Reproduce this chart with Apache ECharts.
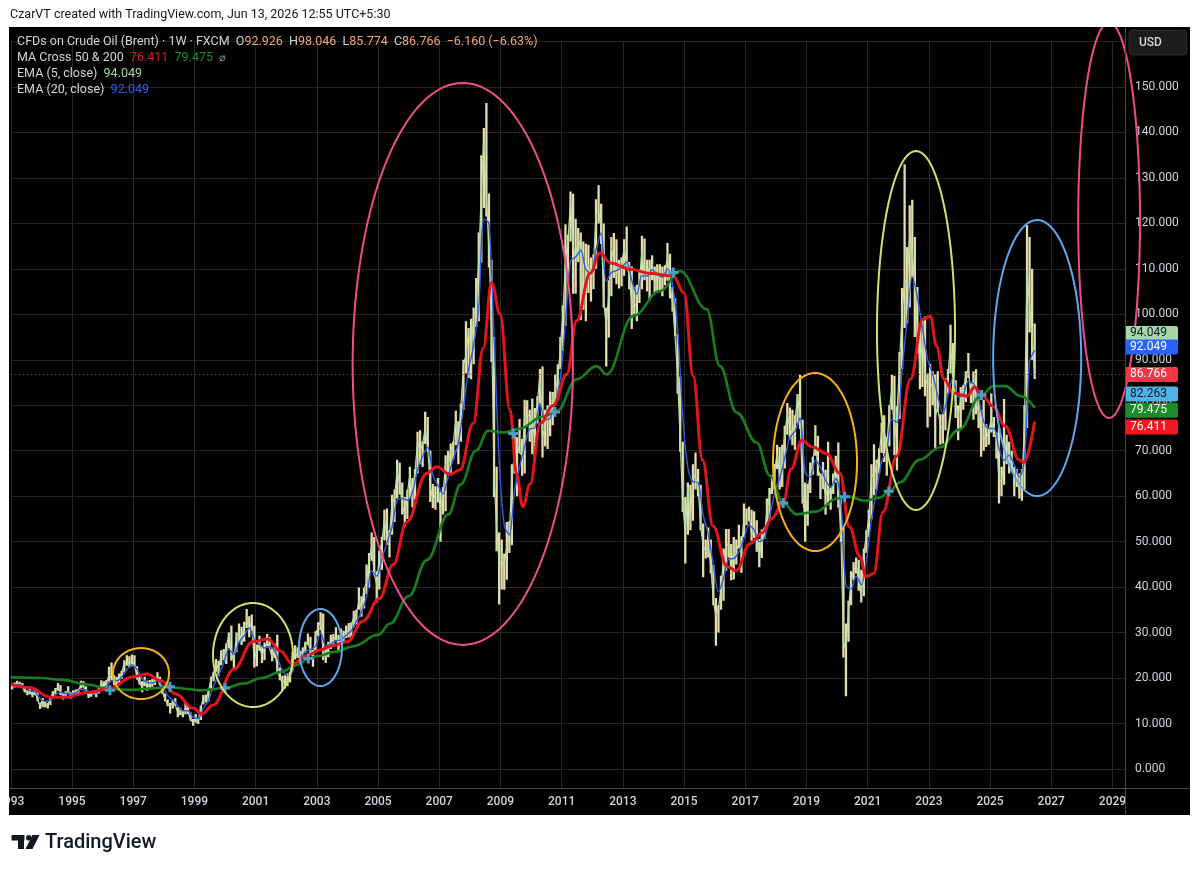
<!DOCTYPE html>
<html><head><meta charset="utf-8">
<script src="https://cdn.jsdelivr.net/npm/echarts@6/dist/echarts.min.js"></script>
<style>
html,body{margin:0;padding:0;background:#ffffff;}
#pane{position:absolute;left:9px;top:27px;width:1181px;height:788px;background:#000000;}
#c{position:absolute;left:0;top:0;width:1200px;height:872px;}
</style>
</head><body><div id="pane"></div><div id="c"></div>
<script>
// ---------- DATA ----------
const START_YEAR = 1993;           // first month = Jan 1993, one entry per month
const monthlyLow = [
17.5,17.9,18.4,18.2,17.8,16.9,16.2,16.4,15.8,16.2,14.9,13.2,
13.6,13.5,13.3,14.1,15.6,16.4,17.2,16.3,15.3,15.8,16.9,15.5,
15.9,16.5,16.4,17.7,17.9,16.8,15.6,15.9,16.4,15.8,16.6,17.7,
17.6,17.8,19.2,19.6,18.4,17.9,19.0,19.8,21.2,22.7,22.3,22.6,
22.5,19.7,18.6,16.9,18.2,17.2,17.8,18.1,18.5,19.6,18.4,16.5,
14.9,13.8,12.2,13.3,13.9,11.4,11.8,11.4,12.0,12.1,10.6,9.5,
10.2,9.9,10.8,14.2,14.6,14.8,17.8,19.3,21.4,20.5,22.8,23.9,
23.1,26.5,23.8,21.9,25.7,28.0,27.3,28.0,31.0,29.0,30.3,22.3,
22.6,26.0,23.3,24.0,27.0,26.8,23.7,24.4,21.0,19.5,17.3,17.7,
18.2,19.0,21.5,24.1,24.4,23.2,24.8,25.5,27.2,25.1,22.5,25.7,
29.2,30.5,24.0,23.3,24.6,26.4,27.4,28.3,26.0,27.4,27.8,28.8,
28.9,29.0,31.2,31.8,35.0,33.5,35.3,38.5,39.9,45.8,42.6,36.6,
39.5,43.8,50.3,49.3,46.5,51.5,54.3,59.5,60.4,56.0,53.4,55.0,
59.5,57.5,59.2,65.0,67.0,66.4,71.5,69.8,58.7,57.4,57.0,58.6,
50.0,56.0,56.7,65.2,64.6,68.0,71.2,67.0,72.0,79.0,87.0,86.0,
85.7,89.0,97.2,98.5,111.4,123.4,121.5,110.3,89.5,59.8,47.9,36.2,
39.5,39.4,41.6,47.5,49.2,65.0,60.0,69.5,64.5,65.0,75.6,72.0,
69.2,68.6,76.0,80.0,68.5,71.0,70.4,73.2,75.6,80.3,81.9,88.0,
92.0,97.5,107.0,116.0,104.5,104.5,111.5,98.7,101.0,98.5,104.7,102.8,
105.5,110.0,120.0,115.5,101.5,88.5,94.9,104.0,108.0,106.6,105.7,106.2,
108.5,110.5,105.5,96.8,100.0,98.5,102.5,105.5,107.5,105.0,103.0,107.5,
104.7,104.8,104.9,104.0,106.4,107.4,103.5,100.6,95.3,82.6,69.8,56.5,
45.2,51.5,52.5,54.6,61.5,60.0,52.5,42.2,46.3,46.5,43.0,36.0,
27.1,30.0,35.0,37.0,43.6,46.5,41.5,41.7,45.0,48.5,43.1,51.0,
53.6,54.5,50.2,50.8,47.8,44.4,46.4,50.6,53.2,55.0,60.5,61.5,
66.0,61.5,62.0,66.1,73.5,72.5,71.2,70.2,76.0,74.8,58.4,50.0,
53.5,60.7,64.7,68.9,64.5,59.4,61.6,55.9,58.0,57.0,60.5,63.0,
57.5,50.0,24.5,16.0,28.0,36.0,41.5,43.0,39.2,36.6,38.0,47.5,
51.0,55.0,60.2,61.5,65.0,69.5,67.5,64.5,71.0,79.0,69.0,65.7,
77.0,88.0,97.0,98.0,101.5,108.0,95.0,91.5,83.5,84.0,82.0,75.1,
77.5,80.0,70.1,78.5,71.3,71.6,74.5,82.5,87.0,83.4,77.2,72.3,
74.5,79.0,80.7,86.0,80.5,76.8,78.0,75.0,68.7,70.0,70.8,71.3,
74.0,73.0,68.3,58.4,60.0,62.5,67.0,65.0,65.5,60.0,62.0,59.5,
59.0,61.5,75.0,96.0,90.0,85.8
];
const monthlyHigh = [
18.8,19.0,19.4,19.2,18.9,18.2,17.3,17.6,17.0,17.8,16.9,14.6,
15.6,14.9,14.5,16.0,17.1,17.8,18.9,18.5,16.6,17.1,18.2,16.9,
17.3,17.5,17.6,19.4,19.3,18.2,16.8,17.0,17.3,16.8,17.8,19.5,
19.3,19.6,22.5,23.4,20.6,20.3,21.0,21.6,23.9,25.0,24.8,25.2,
25.0,22.6,20.9,19.3,20.3,19.4,19.6,19.8,20.3,21.3,20.3,18.4,
16.6,15.3,14.5,15.2,15.6,13.6,13.4,12.8,14.6,14.0,12.4,11.0,
12.1,11.1,13.9,16.3,16.4,17.3,20.3,21.4,24.2,23.8,26.1,26.4,
27.6,30.0,31.5,25.6,30.0,32.0,31.3,32.4,35.2,33.6,34.0,31.5,
27.4,29.3,27.1,27.8,29.7,29.0,26.5,27.6,29.5,22.3,20.5,20.6,
21.0,21.4,25.8,27.2,26.8,26.0,26.7,28.0,29.8,29.1,26.2,30.3,
32.3,34.5,34.2,26.8,28.0,29.5,29.7,31.2,29.5,30.9,30.4,31.5,
32.1,32.2,34.8,35.0,39.9,38.0,39.8,45.0,47.5,52.0,51.0,43.5,
48.0,51.0,57.0,57.3,52.5,60.3,61.5,68.0,67.4,63.0,59.8,61.4,
66.5,64.0,66.0,74.2,74.5,72.1,78.6,77.4,70.0,62.7,62.2,64.0,
61.0,62.0,69.0,70.0,71.6,72.0,78.8,76.5,80.4,90.0,98.5,97.0,
99.0,101.5,108.0,118.0,135.0,141.0,146.5,126.6,112.0,95.0,66.5,52.0,
50.5,47.4,54.3,54.5,67.0,73.5,73.0,77.0,72.6,81.2,81.1,79.0,
81.5,79.4,82.0,88.0,88.5,79.0,80.0,83.0,82.9,86.8,89.0,95.0,
102.0,119.8,117.5,127.0,126.5,121.0,119.0,118.0,116.0,115.5,115.3,112.5,
113.2,125.3,128.4,124.3,120.0,101.5,107.5,117.0,117.9,116.5,112.0,112.5,
116.5,119.3,111.5,110.5,106.0,106.5,109.8,117.3,116.7,112.0,112.0,113.0,
110.5,111.0,111.0,110.5,110.8,115.7,113.3,106.0,103.6,95.6,86.3,72.0,
59.8,63.0,62.5,67.0,69.6,66.0,62.5,54.0,50.5,53.1,50.5,45.0,
37.6,36.0,42.5,48.5,52.8,52.8,49.5,51.0,50.5,53.7,51.2,58.4,
57.3,57.7,57.0,56.7,54.7,50.6,52.7,53.1,59.5,61.8,64.7,67.1,
71.3,70.8,71.3,75.5,80.5,79.5,79.0,77.8,82.5,86.7,76.8,63.0,
62.7,67.4,68.7,75.6,73.3,65.0,67.5,65.8,72.0,61.9,65.0,68.9,
71.8,60.0,53.0,32.0,37.0,43.5,45.5,46.5,46.0,43.8,48.5,52.5,
57.0,67.0,71.4,68.0,70.5,76.2,77.8,73.0,80.0,86.7,86.5,79.8,
91.7,105.8,133.0,114.8,124.0,125.2,117.0,106.0,97.0,98.8,99.5,87.0,
89.1,87.5,86.8,87.5,78.0,78.0,86.0,88.0,97.7,93.7,85.5,80.0,
84.0,84.4,87.5,91.5,84.8,87.5,87.9,81.5,79.0,81.2,75.8,75.0,
82.6,77.4,74.0,75.3,66.5,81.4,73.5,72.0,70.0,66.5,66.0,65.0,
66.0,80.0,119.6,117.0,110.0,98.0
];
const monthlyClose = [
18.0,18.6,18.9,18.5,18.0,17.0,16.8,16.9,16.4,16.9,15.2,13.8,
15.1,14.0,14.2,15.8,16.7,17.4,18.0,16.8,16.1,16.7,17.2,16.0,
16.8,17.1,17.2,18.6,18.1,17.0,16.1,16.7,16.9,16.4,17.5,18.9,
17.9,19.0,20.6,20.0,19.0,19.5,20.2,21.3,23.3,23.0,23.5,23.8,
22.9,20.0,19.0,18.0,19.4,17.9,18.6,18.9,19.6,19.8,18.5,16.8,
15.3,14.2,13.9,14.7,14.1,12.3,12.1,12.0,13.4,12.5,10.9,10.1,
11.3,10.5,13.6,15.6,15.4,17.0,19.8,21.0,23.4,21.9,25.3,25.1,
27.0,29.5,25.0,24.0,29.5,30.0,28.0,31.8,32.0,32.5,31.0,23.8,
26.4,27.0,25.0,26.6,28.0,26.5,24.5,26.0,22.0,20.0,19.0,19.6,
19.8,20.6,25.0,25.4,24.9,25.3,25.8,27.5,28.0,25.7,24.5,29.5,
31.3,32.5,25.5,25.0,27.5,27.8,28.5,29.0,27.0,29.5,29.9,30.2,
30.5,31.5,33.5,34.0,37.0,35.5,39.5,41.0,46.0,49.0,43.0,40.5,
47.0,50.0,55.0,51.0,51.5,58.5,59.5,66.0,62.5,58.0,56.0,60.5,
65.0,60.0,65.5,72.0,70.0,71.5,75.0,70.5,62.0,59.0,60.5,61.0,
57.0,60.5,67.5,67.0,70.0,71.5,77.0,72.5,79.5,89.0,91.0,96.0,
92.0,100.0,101.0,112.0,127.0,139.0,126.0,114.0,98.0,64.0,53.0,45.0,
45.5,45.0,49.0,51.5,65.0,69.0,71.5,69.5,69.0,77.5,78.0,77.5,
72.5,77.0,80.5,87.0,73.0,75.0,79.0,76.5,82.0,83.5,85.5,93.0,
100.0,112.0,116.5,125.0,115.0,112.0,117.0,114.0,102.0,109.5,110.5,107.5,
111.0,122.5,122.5,119.5,102.5,97.5,104.5,114.5,112.0,108.5,110.5,111.0,
114.5,111.0,108.5,102.0,101.5,102.5,107.5,114.0,108.0,108.5,110.5,111.0,
106.5,109.0,107.5,108.0,109.5,112.5,106.0,102.5,95.0,86.0,72.0,58.0,
52.0,62.0,54.5,65.0,64.0,62.0,53.5,49.0,48.0,49.0,44.5,37.0,
33.5,35.5,39.5,47.0,49.0,49.5,43.0,48.5,48.0,49.5,49.0,55.0,
55.5,56.0,51.5,52.0,51.5,46.0,51.5,51.0,57.0,60.0,62.5,65.5,
69.5,64.5,68.0,74.0,78.0,75.0,73.5,76.5,82.0,77.5,60.0,54.0,
61.0,65.0,67.5,72.5,66.0,64.5,63.5,60.0,62.0,60.0,63.0,67.0,
60.0,52.0,28.0,26.0,35.0,41.5,43.5,45.0,41.0,38.0,47.5,51.5,
55.5,65.0,64.0,67.0,69.0,74.5,74.0,71.0,78.5,84.0,72.0,78.0,
89.5,100.5,107.5,106.5,118.0,113.5,106.0,97.0,88.0,94.5,86.0,84.5,
85.0,84.0,77.5,79.5,75.5,75.0,83.5,86.5,93.5,86.0,80.5,77.5,
81.5,83.5,86.5,88.0,82.0,86.0,80.5,78.5,72.5,73.0,72.5,74.5,
77.0,73.5,73.0,63.5,63.5,67.5,72.5,68.0,67.0,64.5,63.5,61.5,
63.0,76.0,110.0,102.0,94.5,86.766
];
// EMA(20) read every second month (Feb, Apr, Jun, Aug, Oct, Dec)
const ema20 = [
18.4,18.6,17.9,17.3,17.0,15.5,
14.9,15.1,16.3,16.9,16.6,16.5,
16.8,17.5,17.4,16.8,16.7,17.7,
18.2,19.4,19.4,20.2,21.9,22.9,
21.9,19.9,19.0,18.9,19.4,18.3,
16.2,15.2,13.9,12.8,12.8,11.4,
11.1,13.3,15.1,18.2,20.7,23.3,
26.3,25.2,27.9,29.3,31.0,28.5,
27.5,26.6,26.9,26.1,23.0,20.9,
20.5,23.2,24.3,25.8,26.3,27.0,
29.9,27.2,27.5,28.2,28.4,29.4,
30.4,32.4,34.5,37.9,43.6,42.4,
46.1,49.8,53.2,59.1,59.5,59.1,
60.8,65.8,68.8,70.8,64.7,62.4,
60.5,64.3,68.1,71.7,79.5,87.9,
93.1,101.5,121.0,120.0,95.2,68.0,
53.5,51.5,61.0,66.4,70.9,74.8,
75.0,80.4,76.8,77.2,80.5,86.0,
98.3,111.8,112.6,114.1,109.8,109.1,
114.2,117.9,107.2,109.2,109.6,110.3,
111.5,107.5,104.4,108.5,108.4,109.8,
108.8,108.2,110.0,106.5,96.7,77.5,
66.3,63.2,63.0,55.9,51.7,44.9,
39.0,41.9,46.2,46.3,47.8,50.6,
53.6,52.6,50.0,50.7,55.4,60.5,
63.9,68.4,72.9,74.3,77.2,65.2,
64.2,67.9,66.3,63.5,62.0,63.9,
58.8,40.3,39.6,42.4,40.5,45.9,
54.8,61.1,67.6,70.2,76.9,76.2,
87.8,98.8,108.3,103.8,97.0,90.1,
86.8,82.1,78.1,82.3,86.1,81.8,
82.3,85.3,84.8,81.6,76.5,74.9,
74.9,70.5,67.9,69.0,66.9,64.2,
68.1,89.5,92.049
];
// [year, value]
const ma50 = [
[1993.0,18.6],[1993.6,17.9],[1994.3,15.8],[1994.8,15.8],[1995.5,16.8],[1996.2,17.6],[1997.0,20.3],[1997.45,20.9],
[1997.9,19.4],[1998.4,16.5],[1998.95,13.4],[1999.25,12.1],[1999.6,14.0],[2000.3,22.0],[2000.9,28.0],[2001.4,28.6],
[2001.8,26.0],[2002.2,23.1],[2002.7,25.0],[2003.1,26.2],[2003.5,27.1],[2004.0,28.0],[2004.5,32.5],[2005.05,37.5],
[2005.5,45.0],[2005.94,54.3],[2006.59,65.0],[2006.92,66.5],[2007.35,64.8],[2007.68,65.8],[2008.11,76.0],[2008.44,92.6],
[2008.71,107.0],[2008.99,100.0],[2009.31,79.0],[2009.53,64.8],[2009.73,57.7],[2009.97,62.6],[2010.3,76.0],[2010.73,80.0],
[2011.17,86.8],[2011.49,98.6],[2011.93,109.0],[2012.25,113.5],[2012.6,111.3],[2013.25,109.9],[2013.9,109.0],[2014.65,108.4],
[2015.0,104.7],[2015.3,86.4],[2015.6,68.0],[2015.95,53.4],[2016.4,44.6],[2016.7,43.6],[2017.15,49.5],[2017.57,52.0],
[2017.85,55.0],[2018.24,58.5],[2018.5,66.0],[2018.85,72.3],[2019.2,70.8],[2019.65,69.4],[2020.1,65.0],[2020.4,53.3],
[2020.75,46.7],[2020.95,42.3],[2021.2,43.0],[2021.5,56.5],[2021.95,68.8],[2022.4,85.7],[2022.8,98.9],[2023.05,99.6],
[2023.25,93.0],[2023.5,85.7],[2023.8,82.7],[2024.25,82.0],[2024.5,84.0],[2024.72,82.3],[2025.1,79.8],[2025.5,75.4],
[2025.95,68.0],[2026.1,67.4],[2026.458,76.411]
];
const ma200 = [
[1993.0,20.2],[1994.0,20.0],[1994.7,19.6],[1995.5,18.6],[1996.2,17.6],[1997.0,17.4],[1997.5,17.7],[1998.2,18.0],
[1998.8,17.6],[1999.2,17.3],[2000.0,17.8],[2000.6,18.8],[2001.2,20.0],[2001.8,21.3],[2002.4,23.0],[2002.7,24.2],
[2003.0,24.8],[2003.6,25.8],[2004.2,27.0],[2005.0,29.5],[2005.4,32.0],[2006.0,38.0],[2006.6,46.0],[2007.3,56.0],
[2007.7,62.6],[2008.2,70.0],[2008.6,74.4],[2009.1,74.0],[2009.6,74.8],[2010.4,77.5],[2010.84,78.7],[2011.49,85.7],
[2012.14,88.6],[2012.47,86.8],[2013.34,99.6],[2014.21,105.1],[2014.87,109.5],[2015.74,101.1],[2016.17,88.6],[2016.72,78.4],
[2017.37,71.8],[2017.81,64.5],[2018.24,58.5],[2018.68,56.0],[2019.3,56.6],[2020.0,59.5],[2020.4,59.9],[2020.9,59.0],
[2021.4,59.7],[2021.7,61.0],[2022.05,63.0],[2022.7,68.0],[2023.35,70.7],[2024.0,74.7],[2024.72,82.3],[2025.1,84.2],
[2025.5,84.2],[2026.0,82.0],[2026.458,79.475]
];
const maCrosses = [
[1996.24,17.3],[1998.2,18.1],[2000.0,17.8],[2002.72,24.3],[2009.42,73.8],[2010.78,78.5],
[2014.65,109.2],[2018.24,58.5],[2020.25,59.9],[2021.69,61.1],[2024.72,82.263]
];
// drawn ellipses: [centre year, centre price, half-width in years, half-height in price]
const ellipses = [
[2007.77,89.1,3.6,61.8],[2028.89,120.7,1.01,43.5],[1997.255,21.0,0.915,5.6],[2000.915,25.07,1.307,11.44],
[2003.12,26.72,0.703,8.47],[2019.28,67.52,1.373,19.57],[2022.58,96.44,1.275,39.48],[2026.54,90.39,1.438,30.35]
];
const lastValues = { ema5: 94.049, ema20: 92.049, close: 86.766, cross: 82.263, ma200: 79.475, ma50: 76.411 };
const ohlc = { o: '92.926', h: '98.046', l: '85.774', c: '86.766', chg: '−6.160 (−6.63%)' };

// ---------- STYLES ----------
const ellipseColors = ['#ee4d8c','#ee4d8c','#f8b219','#cde468','#5ea8f2','#f8b219','#cde468','#5ea8f2'];
const FONT = 'Roboto, "Liberation Sans", sans-serif';
const TXT = '#d1d4dc';

const monthX = i => START_YEAR + (i + 0.5) / 12;
const barData = monthlyLow.map((lo, i) => [monthX(i), lo, monthlyHigh[i]]);
const closeData = monthlyClose.map((c, i) => [monthX(i), c]);
const ema20Data = ema20.map((v, i) => [START_YEAR + (2 * i + 1.5) / 12, v]);

const chart = echarts.init(document.getElementById('c'), null, { renderer: 'canvas', width: 1200, height: 872 });

const option = {
  backgroundColor: 'transparent',
  animation: false,
  grid: { left: 10.8, right: 75, top: 41.52, bottom: 57.53, containLabel: false, outerBoundsMode: 'none' },
  xAxis: [
    { type: 'value', min: 1993, max: 2029.41, interval: 2, position: 'top',
      axisLine: { show: false }, axisTick: { show: false }, axisLabel: { show: false },
      splitLine: { show: true, lineStyle: { color: '#252525', width: 1 } } },
    { type: 'value', min: 1993, max: 2029.41, interval: 2, position: 'bottom', offset: -26.5, z: 10,
      axisLine: { show: false }, axisTick: { show: false }, splitLine: { show: false },
      axisLabel: { color: TXT, fontSize: 12, fontWeight: 500, fontFamily: FONT, margin: 8, showMaxLabel: false,
        formatter: v => (Math.abs(v - Math.round(v)) < 1e-6 ? String(Math.round(v)) : '') } }
  ],
  yAxis: {
    type: 'value', position: 'right', min: -10, max: 160, interval: 10,
    axisLine: { show: false }, axisTick: { show: false },
    splitLine: { show: true, lineStyle: { color: '#252525', width: 1 } },
    axisLabel: { color: TXT, fontSize: 12, fontFamily: FONT, margin: 10,
      formatter: v => (v >= 0 && v <= 150 ? v.toFixed(3) : '') }
  },
  series: [
    { type: 'custom', name: 'bars', z: 2, clip: true, data: barData, encode: { x: 0, y: [1, 2] },
      renderItem: (params, api) => {
        const a = api.coord([api.value(0), api.value(1)]);
        const b = api.coord([api.value(0), api.value(2)]);
        return { type: 'line', shape: { x1: a[0], y1: a[1], x2: b[0], y2: b[1] },
                 style: { stroke: '#e2dcaa', lineWidth: 2.3 } };
      } },
    { type: 'line', name: 'EMA5', z: 3, data: closeData, showSymbol: false, symbol: 'none',
      lineStyle: { color: '#b6dda8', width: 1.2 },
      markLine: { silent: true, symbol: ['none', 'none'], label: { show: false },
        lineStyle: { color: '#f23645', type: [1, 3], width: 1, opacity: 0.9 },
        data: [{ yAxis: lastValues.close }] } },
    { type: 'line', name: 'EMA20', z: 4, data: ema20Data, showSymbol: false, symbol: 'none', smooth: 0.3,
      lineStyle: { color: '#2d5ce6', width: 1.4 } },
    { type: 'line', name: 'MA200', z: 5, data: ma200, showSymbol: false, symbol: 'none', smooth: 0.4, smoothMonotone: 'x',
      lineStyle: { color: '#17801d', width: 2.6 } },
    { type: 'line', name: 'MA50', z: 5, data: ma50, showSymbol: false, symbol: 'none', smooth: 0.4, smoothMonotone: 'x',
      lineStyle: { color: '#e3141b', width: 3 } },
    { type: 'scatter', name: 'cross', z: 6, data: maCrosses, symbolSize: 10,
      symbol: 'path://M3.5,0H6.5V3.5H10V6.5H6.5V10H3.5V6.5H0V3.5H3.5Z',
      itemStyle: { color: '#4a9ec6', opacity: 1 } },
    { type: 'custom', name: 'ellipses', z: 7, clip: false, data: ellipses,
      encode: { x: 0, y: 1 },
      renderItem: (params, api) => {
        const cx = api.value(0), cy = api.value(1), rx = api.value(2), ry = api.value(3);
        const pts = [];
        for (let k = 0; k <= 144; k++) {
          const t = k / 144 * Math.PI * 2;
          pts.push(api.coord([cx + rx * Math.cos(t), cy + ry * Math.sin(t)]));
        }
        return { type: 'polyline', shape: { points: pts },
                 style: { stroke: ellipseColors[params.dataIndex], lineWidth: 2, fill: 'none' } };
      } }
  ]
};
chart.setOption(option);

function baseGraphic() {
  const els = [];
  // covers that trim the pane
  els.push({ type: 'rect', z: 50, shape: { x: 0, y: 0, width: 1200, height: 27 }, style: { fill: '#ffffff' } });
  els.push({ type: 'rect', z: 50, shape: { x: 0, y: 27, width: 9, height: 845 }, style: { fill: '#ffffff' } });
  els.push({ type: 'rect', z: 5, shape: { x: 9, y: 788.5, width: 1116, height: 26.5 }, style: { fill: '#000000' } });
  // separators
  els.push({ type: 'line', z: 20, shape: { x1: 1125.5, y1: 27, x2: 1125.5, y2: 815 }, style: { stroke: '#4a4a4a', lineWidth: 1 } });
  els.push({ type: 'line', z: 20, shape: { x1: 9, y1: 788.5, x2: 1190, y2: 788.5 }, style: { stroke: '#4a4a4a', lineWidth: 1 } });
  // header
  els.push({ type: 'text', z: 60, x: 10, y: 15,
    style: { text: 'CzarVT created with TradingView.com, Jun 13, 2026 12:55 UTC+5:30', fill: '#131722',
      font: '12.5px ' + FONT, verticalAlign: 'middle', align: 'left' } });
  // legend
  const rich = {
    t: { fill: TXT, font: '12.5px ' + FONT }, o: { fill: '#f2a47a', font: '12.5px ' + FONT },
    r: { fill: '#e3141b', font: '12.5px ' + FONT }, g: { fill: '#1f8f25', font: '12.5px ' + FONT },
    s: { fill: '#9598a1', font: '11px ' + FONT }, lg: { fill: '#a5d6a7', font: '12.5px ' + FONT },
    bl: { fill: '#2962ff', font: '12.5px ' + FONT }
  };
  const lines = [
    `{t|CFDs on Crude Oil (Brent) · 1W · FXCM}  {t|O}{o|${ohlc.o}}  {t|H}{o|${ohlc.h}}  {t|L}{o|${ohlc.l}}  {t|C}{o|${ohlc.c}}  {o|${ohlc.chg}}`,
    `{t|MA Cross 50 & 200}  {r|${lastValues.ma50.toFixed(3)}}  {g|${lastValues.ma200.toFixed(3)}}  {s|⌀}`,
    `{t|EMA (5, close)}  {lg|${lastValues.ema5.toFixed(3)}}`,
    `{t|EMA (20, close)}  {bl|${lastValues.ema20.toFixed(3)}}`
  ];
  const ly = [42, 58, 74, 90];
  lines.forEach((s, i) => els.push({ type: 'text', z: 40, x: 17, y: ly[i],
    style: { text: s, rich: rich, font: '12.5px ' + FONT, fill: TXT, verticalAlign: 'middle', align: 'left' } }));
  // USD box
  els.push({ type: 'rect', z: 30, shape: { x: 1129, y: 30, width: 58, height: 25, r: 4 },
    style: { fill: '#1c1c1c', stroke: '#2b2b2b', lineWidth: 1 } });
  els.push({ type: 'text', z: 31, x: 1139, y: 42.5,
    style: { text: 'USD', fill: TXT, font: '500 12px ' + FONT, verticalAlign: 'middle', align: 'left' } });
  // TradingView logo
  els.push({ type: 'rect', z: 60, shape: { x: 11.5, y: 835, width: 13, height: 5.5 }, style: { fill: '#131722' } });
  els.push({ type: 'rect', z: 60, shape: { x: 18, y: 835, width: 6, height: 14 }, style: { fill: '#131722' } });
  els.push({ type: 'circle', z: 60, shape: { cx: 28.8, cy: 837.8, r: 2.8 }, style: { fill: '#131722' } });
  els.push({ type: 'polygon', z: 60, shape: { points: [[32.5, 835], [39.5, 835], [32.5, 849], [25.5, 849]] }, style: { fill: '#131722' } });
  els.push({ type: 'text', z: 60, x: 45, y: 842.5,
    style: { text: 'TradingView', fill: '#131722', font: '500 20px ' + FONT, verticalAlign: 'middle', align: 'left' } });
  return els;
}

const axisTags = [
  { value: lastValues.ema5, bg: '#a5d6a7', fg: '#131722' },
  { value: lastValues.ema20, bg: '#2962ff', fg: '#ffffff' },
  { value: lastValues.close, bg: '#f23645', fg: '#ffffff' },
  { value: lastValues.cross, bg: '#4fb3e6', fg: '#131722' },
  { value: lastValues.ma200, bg: '#1c8c2a', fg: '#ffffff' },
  { value: lastValues.ma50, bg: '#f5161f', fg: '#ffffff' }
];
const tagNudge = [-8, -3.5, 0, -1, 2.5, 5.5];
const tagEls = [];
axisTags.forEach((t, i) => {
  const y = chart.convertToPixel({ yAxisIndex: 0 }, t.value) + tagNudge[i];
  tagEls.push({ type: 'rect', z: 30, shape: { x: 1126, y: y - 7.5, width: 52, height: 15, r: [0, 2, 2, 0] }, style: { fill: t.bg } });
  tagEls.push({ type: 'text', z: 31, x: 1130, y: y,
    style: { text: t.value.toFixed(3), fill: t.fg, font: '12px ' + FONT, verticalAlign: 'middle', align: 'left' } });
});
chart.setOption({ graphic: { elements: baseGraphic().concat(tagEls) } });
</script>
</body></html>
